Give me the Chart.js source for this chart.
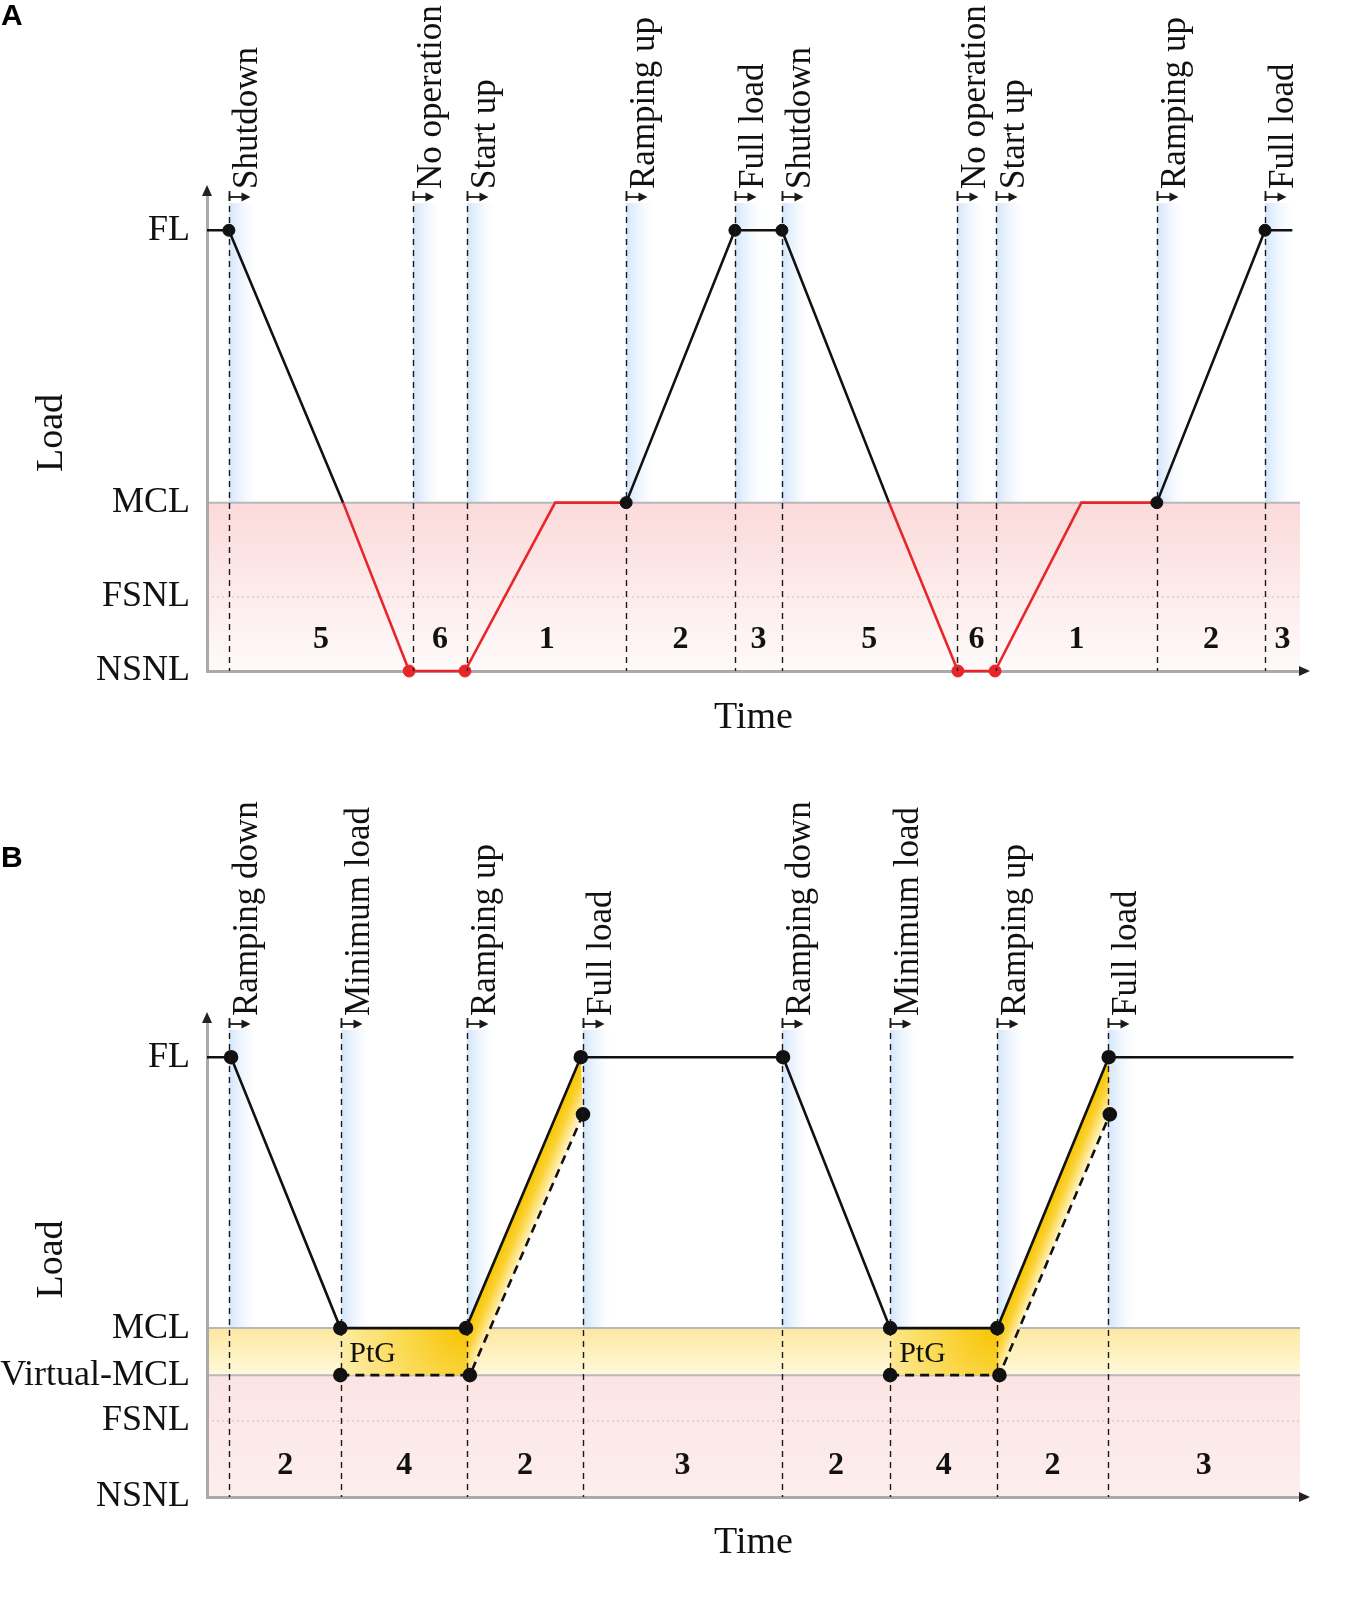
<!DOCTYPE html>
<html>
<head>
    <meta charset="UTF-8">
    <title>Operating states - load cycling</title>
    <script src="https://cdn.jsdelivr.net/npm/chart.js"></script>
    <style>
        body {
            margin: 0;
            background: #fff;
            width: 1350px;
            height: 1612px;
            overflow: hidden;
            position: relative;
        }
        .panel {
            position: absolute;
            left: 0;
            width: 1350px;
        }
        .tag {
            position: absolute;
            left: 1px;
            z-index: 2;
            font: bold 30px 'Liberation Sans', Arial, sans-serif;
            color: #000;
        }
    </style>
</head>
<body>
<div class="tag" style="top:-2px">A</div>
<div class="tag" style="top:840px">B</div>
<div class="panel" style="top:0;height:780px"><canvas id="chartA"></canvas></div>
<div class="panel" style="top:780px;height:832px"><canvas id="chartB"></canvas></div>
<script>
    // panel A: shutdown / start-up cycling
    const levelNamesA = ['NSNL', 'FSNL', 'MCL', 'FL'];
    const levelValuesA = [0, 16.8, 38.2, 100];
    const eventNamesA = ['Shutdown', 'No operation', 'Start up', 'Ramping up', 'Full load',
                         'Shutdown', 'No operation', 'Start up', 'Ramping up', 'Full load'];
    const eventTimesA = [2.0, 18.85, 23.8, 38.35, 48.3, 52.6, 68.6, 72.2, 86.9, 96.8];
    const phaseNumbersA = ['5', '6', '1', '2', '3', '5', '6', '1', '2', '3'];
    const timeA = [0, 2.0, 12.45, 18.5, 23.6, 31.85, 38.35, 48.3, 52.6, 62.4, 68.7, 72.1, 80.0, 86.9, 96.8, 99.3];
    const loadA = [100, 100, 38.2, 0, 0, 38.2, 38.2, 100, 100, 38.2, 0, 0, 38.2, 38.2, 100, 100];

    // panel B: minimum load with power-to-gas
    const levelNamesB = ['NSNL', 'FSNL', 'Virtual-MCL', 'MCL', 'FL'];
    const levelValuesB = [0, 17.3, 27.7, 38.4, 100];
    const eventNamesB = ['Ramping down', 'Minimum load', 'Ramping up', 'Full load',
                         'Ramping down', 'Minimum load', 'Ramping up', 'Full load'];
    const eventTimesB = [2.0, 12.3, 23.8, 34.4, 52.6, 62.5, 72.3, 82.4];
    const phaseNumbersB = ['2', '4', '2', '3', '2', '4', '2', '3'];
    const timeB = [0, 2.2, 12.2, 23.7, 34.2, 52.7, 62.5, 72.3, 82.5, 99.4];
    const loadB = [100, 100, 38.4, 38.4, 100, 100, 38.4, 38.4, 100, 100];
    const ptgTimeB1 = [12.2, 24.05, 34.4];
    const ptgTimeB2 = [62.5, 72.5, 82.6];
    const ptgLoadB = [27.7, 27.7, 87.0];

    const BLACK = '#111111';
    const RED = '#e8262a';
    const SERIF = "'Liberation Serif', 'Times New Roman', serif";

    Chart.defaults.font.family = SERIF;
    Chart.defaults.color = '#111';

    function pts(ts, ls) {
        return ts.map((t, i) => ({x: t, y: ls[i]}));
    }

    function nearEvent(t, times) {
        return times.some(e => Math.abs(e - t) < 0.8);
    }

    function seg(ctx, x1, y1, x2, y2) {
        ctx.beginPath();
        ctx.moveTo(x1, y1);
        ctx.lineTo(x2, y2);
        ctx.stroke();
    }

    function poly(ctx, list) {
        ctx.beginPath();
        list.forEach((p, i) => i ? ctx.lineTo(p.x, p.y) : ctx.moveTo(p.x, p.y));
        ctx.closePath();
        ctx.fill();
    }

    const decor = {
        id: 'decor',
        beforeDraw(chart, args, o) {
            const {ctx, chartArea: a, scales: {x, y}} = chart;
            const py = v => y.getPixelForValue(v);
            ctx.save();
            o.bands.forEach(b => {
                const y0 = py(b.to), y1 = py(b.from);
                const g = ctx.createLinearGradient(0, y0, 0, y1);
                g.addColorStop(0, b.top);
                g.addColorStop(1, b.bottom);
                ctx.fillStyle = g;
                ctx.fillRect(a.left, y0, a.right - a.left, y1 - y0);
            });
            o.times.forEach(t => {
                const px = x.getPixelForValue(t);
                const g = ctx.createLinearGradient(px, 0, px + 28, 0);
                g.addColorStop(0, 'rgba(198,223,250,0.8)');
                g.addColorStop(1, 'rgba(235,244,253,0)');
                ctx.fillStyle = g;
                ctx.fillRect(px, a.top + 8, 28, py(o.stripTo) - a.top - 8);
            });
            ctx.strokeStyle = '#b8b8b8';
            ctx.lineWidth = 2;
            o.solidLevels.forEach(v => seg(ctx, a.left, py(v), a.right, py(v)));
            ctx.strokeStyle = '#c2c2c2';
            ctx.lineWidth = 1;
            ctx.setLineDash([2, 3]);
            o.dottedLevels.forEach(v => seg(ctx, a.left, py(v), a.right, py(v)));
            ctx.restore();
        },
        beforeDatasetsDraw(chart, args, o) {
            if (!o.ptg) return;
            const {ctx} = chart;
            const solidRaw = chart.data.datasets[0].data;
            const solid = chart.getDatasetMeta(0).data;
            ctx.save();
            o.ptg.forEach(idx => {
                const raw = chart.data.datasets[idx].data;
                const lo = raw[0].x - 0.5, hi = raw[raw.length - 1].x + 0.5;
                const S = solid.filter((p, i) => solidRaw[i].x >= lo && solidRaw[i].x <= hi);
                const D = chart.getDatasetMeta(idx).data;

                let g = ctx.createRadialGradient(S[1].x, S[1].y, 0, S[1].x, S[1].y, 150);
                g.addColorStop(0, '#f8c300');
                g.addColorStop(0.4, '#fbd84c');
                g.addColorStop(1, '#fff3c6');
                ctx.fillStyle = g;
                poly(ctx, [S[0], S[1], D[1], D[0]]);

                const ex = S[2].x - S[1].x, ey = S[2].y - S[1].y, len = Math.hypot(ex, ey);
                const nx = -ey / len, ny = ex / len;
                const d = (D[1].x - S[1].x) * nx + (D[1].y - S[1].y) * ny;
                const mx = (S[1].x + S[2].x) / 2, my = (S[1].y + S[2].y) / 2;
                g = ctx.createLinearGradient(mx, my, mx + nx * d, my + ny * d);
                g.addColorStop(0, '#f8c500');
                g.addColorStop(0.45, '#fbd234');
                g.addColorStop(1, '#fff0b8');
                ctx.fillStyle = g;
                poly(ctx, [S[1], S[2], D[2], D[1]]);

                ctx.fillStyle = BLACK;
                ctx.font = `30px ${SERIF}`;
                ctx.textAlign = 'left';
                ctx.textBaseline = 'middle';
                ctx.fillText(o.ptgLabel, S[0].x + 9, (S[0].y + D[0].y) / 2 + 2);
            });
            ctx.restore();
        },
        afterDatasetsDraw(chart, args, o) {
            const {ctx, chartArea: a, scales: {x, y}} = chart;
            ctx.save();
            o.times.forEach((t, i) => {
                const px = Math.round(x.getPixelForValue(t)) + 0.5;
                ctx.strokeStyle = '#1a1a1a';
                ctx.fillStyle = '#1a1a1a';
                ctx.lineWidth = 1.4;
                ctx.setLineDash([6, 5]);
                seg(ctx, px, a.top, px, a.bottom);
                ctx.setLineDash([]);
                ctx.lineWidth = 1.8;
                seg(ctx, px, a.top - 4, px, a.top + 6);
                seg(ctx, px, a.top + 2, px + 14, a.top + 2);
                ctx.beginPath();
                ctx.moveTo(px + 21, a.top + 2);
                ctx.lineTo(px + 12, a.top - 2.5);
                ctx.lineTo(px + 12, a.top + 6.5);
                ctx.closePath();
                ctx.fill();

                ctx.save();
                ctx.translate(px + 27, a.top - 6);
                ctx.rotate(-Math.PI / 2);
                ctx.font = `35px ${SERIF}`;
                ctx.textAlign = 'left';
                ctx.textBaseline = 'alphabetic';
                ctx.fillStyle = BLACK;
                ctx.fillText(o.names[i], 0, 0);
                ctx.restore();
            });

            const bounds = o.times.concat([x.max]);
            ctx.font = `bold 32px ${SERIF}`;
            ctx.textAlign = 'center';
            ctx.textBaseline = 'middle';
            ctx.fillStyle = BLACK;
            o.phases.forEach((p, i) => {
                ctx.fillText(p, x.getPixelForValue((bounds[i] + bounds[i + 1]) / 2), y.getPixelForValue(o.phaseAt));
            });

            ctx.fillStyle = '#222';
            ctx.beginPath();
            ctx.moveTo(a.left, a.top - 10);
            ctx.lineTo(a.left - 5, a.top + 1);
            ctx.lineTo(a.left + 5, a.top + 1);
            ctx.closePath();
            ctx.fill();
            ctx.beginPath();
            ctx.moveTo(a.right + 10, a.bottom);
            ctx.lineTo(a.right - 1, a.bottom - 5);
            ctx.lineTo(a.right - 1, a.bottom + 5);
            ctx.closePath();
            ctx.fill();
            ctx.restore();
        }
    };

    function axes(names, values, xAxisHeight, titlePad) {
        return {
            x: {
                type: 'linear',
                min: 0,
                max: 100,
                ticks: { display: false },
                grid: { display: false, drawTicks: false },
                border: { display: true, color: '#aaaaaa', width: 3 },
                afterFit: s => { s.height = xAxisHeight; },
                title: { display: true, text: 'Time', font: { size: 38 }, color: '#111',
                         padding: { top: 0, bottom: titlePad } }
            },
            y: {
                type: 'linear',
                min: 0,
                max: 108,
                afterBuildTicks: s => { s.ticks = values.map(v => ({ value: v })); },
                afterFit: s => { s.width = 207; },
                ticks: { callback: (v, i) => names[i], font: { size: 36 }, color: '#111',
                         padding: 17, autoSkip: false },
                grid: { display: false, drawTicks: false },
                border: { display: true, color: '#aaaaaa', width: 3 },
                title: { display: true, text: 'Load', font: { size: 38 }, color: '#111',
                         padding: { top: 29, bottom: 0 } }
            }
        };
    }

    const mclA = levelValuesA[2];
    new Chart(document.getElementById('chartA'), {
        type: 'line',
        data: {
            datasets: [{
                data: pts(timeA, loadA),
                borderColor: BLACK,
                borderWidth: 2.6,
                tension: 0,
                fill: false,
                clip: false,
                segment: {
                    borderColor: c => (c.p0.parsed.y <= mclA + 0.01 && c.p1.parsed.y <= mclA + 0.01) ? RED : BLACK
                },
                pointRadius: c => nearEvent(c.raw.x, eventTimesA) ? 6 : 0,
                pointBackgroundColor: c => c.raw.y < 1 ? RED : BLACK,
                pointBorderColor: c => c.raw.y < 1 ? RED : BLACK,
                pointBorderWidth: 1
            }]
        },
        options: {
            responsive: true,
            maintainAspectRatio: false,
            animation: false,
            layout: { padding: { top: 195, right: 50, bottom: 0, left: 0 } },
            scales: axes(levelNamesA, levelValuesA, 109, 39),
            plugins: {
                legend: { display: false },
                tooltip: { enabled: false },
                decor: {
                    names: eventNamesA,
                    times: eventTimesA,
                    phases: phaseNumbersA,
                    phaseAt: 7,
                    stripTo: mclA,
                    solidLevels: [mclA],
                    dottedLevels: [levelValuesA[1]],
                    bands: [
                        { from: 0, to: mclA, top: '#fbdada', bottom: '#fffafa' }
                    ]
                }
            }
        },
        plugins: [decor]
    });

    const mclB = levelValuesB[3], vmclB = levelValuesB[2];
    const dashedB = t => ({
        data: pts(t, ptgLoadB),
        borderColor: BLACK,
        borderWidth: 2.6,
        borderDash: [9, 6],
        tension: 0,
        fill: false,
        clip: false,
        pointRadius: c => nearEvent(c.raw.x, eventTimesB) ? 6 : 0,
        pointBackgroundColor: BLACK,
        pointBorderColor: BLACK,
        order: 1
    });
    new Chart(document.getElementById('chartB'), {
        type: 'line',
        data: {
            datasets: [{
                data: pts(timeB, loadB),
                borderColor: BLACK,
                borderWidth: 2.6,
                tension: 0,
                fill: false,
                clip: false,
                pointRadius: c => nearEvent(c.raw.x, eventTimesB) ? 6 : 0,
                pointBackgroundColor: BLACK,
                pointBorderColor: BLACK,
                order: 0
            }, dashedB(ptgTimeB1), dashedB(ptgTimeB2)]
        },
        options: {
            responsive: true,
            maintainAspectRatio: false,
            animation: false,
            layout: { padding: { top: 242, right: 50, bottom: 0, left: 0 } },
            scales: axes(levelNamesB, levelValuesB, 115, 46),
            plugins: {
                legend: { display: false },
                tooltip: { enabled: false },
                decor: {
                    names: eventNamesB,
                    times: eventTimesB,
                    phases: phaseNumbersB,
                    phaseAt: 7,
                    stripTo: mclB,
                    solidLevels: [mclB, vmclB],
                    dottedLevels: [levelValuesB[1]],
                    ptg: [1, 2],
                    ptgLabel: 'PtG',
                    bands: [
                        { from: vmclB, to: mclB, top: '#fde8a0', bottom: '#fff8dc' },
                        { from: 0, to: vmclB, top: '#fce4e4', bottom: '#fdeeee' }
                    ]
                }
            }
        },
        plugins: [decor]
    });
</script>
</body>
</html>
